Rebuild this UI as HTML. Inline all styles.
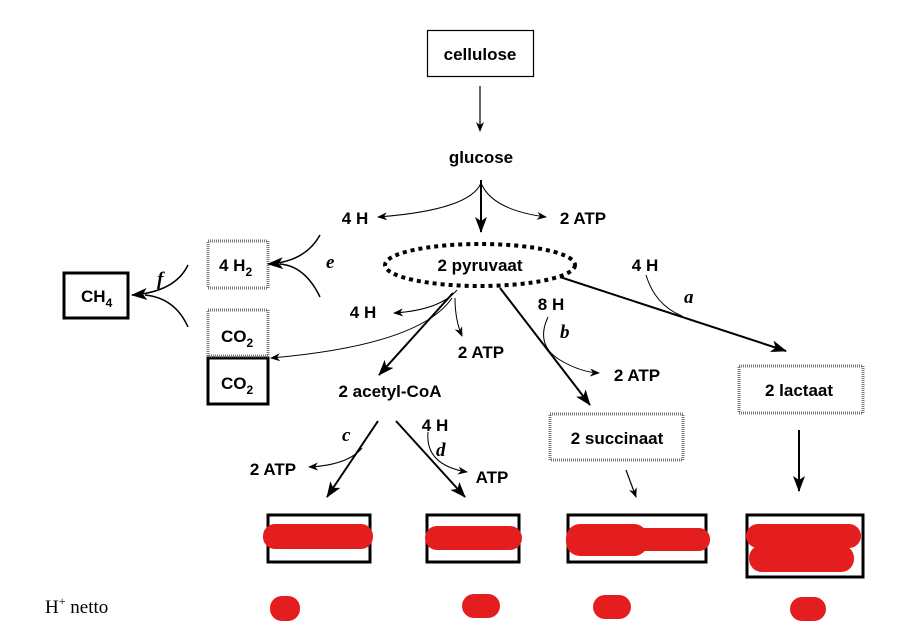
<!DOCTYPE html>
<html><head><meta charset="utf-8"><style>
html,body{margin:0;padding:0;background:#fff;}
svg{display:block;}
.t{font-family:"Liberation Sans",Arial,sans-serif;font-weight:bold;font-size:17px;fill:#000;}
.i{font-family:"Liberation Serif",serif;font-style:italic;font-weight:bold;font-size:19px;fill:#000;}
</style></head><body>
<svg width="901" height="640" viewBox="0 0 901 640" xmlns="http://www.w3.org/2000/svg">
<defs>
<marker id="ah" markerWidth="10" markerHeight="8" refX="9" refY="4" orient="auto" markerUnits="userSpaceOnUse">
<path d="M0,0 L10,4 L0,8 L3,4 z" fill="#000"/></marker>
<marker id="ahb" markerWidth="16" markerHeight="12" refX="15" refY="6" orient="auto" markerUnits="userSpaceOnUse">
<path d="M0,0 L16,6 L0,12 L4,6 z" fill="#000"/></marker>
</defs>
<rect width="901" height="640" fill="#fff"/>
<g fill="none" stroke="#000">
<!-- boxes -->
<rect x="427.5" y="30.5" width="106" height="46" stroke-width="1.2"/>
<rect x="64" y="273" width="64" height="45" stroke-width="3"/>
<rect x="208" y="358" width="60" height="46" stroke-width="3"/>
<g stroke="#777" stroke-width="3" stroke-dasharray="1,1">
<rect x="208" y="241" width="60" height="47"/>
<rect x="208" y="310" width="60" height="46"/>
<rect x="739" y="366" width="124" height="47"/>
<rect x="550" y="414" width="133" height="46"/>
</g>
<ellipse cx="480" cy="265" rx="95" ry="21" stroke-width="4" stroke-dasharray="4,4"/>
<rect x="268" y="515" width="102" height="47" stroke-width="3"/>
<rect x="427" y="515" width="92" height="47" stroke-width="3"/>
<rect x="568" y="515" width="138" height="47" stroke-width="3"/>
<rect x="747" y="515" width="116" height="62" stroke-width="3"/>
<!-- arrows -->
<line x1="480" y1="86" x2="480" y2="131" stroke-width="1.2" marker-end="url(#ah)"/>
<line x1="481" y1="180" x2="481" y2="232" stroke-width="2" marker-end="url(#ahb)"/>
<path d="M481,183 Q470,210 378,217" stroke-width="1" marker-end="url(#ah)"/>
<path d="M481,183 Q492,210 546,217" stroke-width="1" marker-end="url(#ah)"/>
<path d="M320,235 Q305,262 268,264" stroke-width="1.5" marker-end="url(#ahb)"/>
<path d="M320,297 Q305,266 280,264" stroke-width="1.5"/>
<path d="M188,265 Q175,292 132,295" stroke-width="1.5" marker-end="url(#ahb)"/>
<path d="M188,327 Q175,298 145,295" stroke-width="1.5"/>
<path d="M457,290 Q440,310 394,313" stroke-width="1" marker-end="url(#ah)"/>
<path d="M455,298 Q455,320 462,336" stroke-width="1" marker-end="url(#ah)"/>
<path d="M452,298 Q420,345 271,358" stroke-width="1" marker-end="url(#ah)"/>
<line x1="453" y1="293" x2="379" y2="375" stroke-width="2" marker-end="url(#ahb)"/>
<line x1="500" y1="288" x2="590" y2="405" stroke-width="2" marker-end="url(#ahb)"/>
<path d="M548,317 Q535,345 560,360 Q580,372 599,373" stroke-width="1" marker-end="url(#ah)"/>
<line x1="560" y1="277" x2="786" y2="351" stroke-width="2" marker-end="url(#ahb)"/>
<path d="M646,275 Q655,305 682,316" stroke-width="1"/>
<line x1="799" y1="430" x2="799" y2="491" stroke-width="2" marker-end="url(#ahb)"/>
<line x1="626" y1="470" x2="636" y2="497" stroke-width="1.2" marker-end="url(#ah)"/>
<line x1="378" y1="421" x2="327" y2="497" stroke-width="2" marker-end="url(#ahb)"/>
<path d="M362,448 Q348,465 309,467" stroke-width="1" marker-end="url(#ah)"/>
<line x1="396" y1="421" x2="465" y2="497" stroke-width="2" marker-end="url(#ahb)"/>
<path d="M428,432 Q425,465 467,472" stroke-width="1" marker-end="url(#ah)"/>
</g>
<!-- labels -->
<text class="t" x="480" y="60" text-anchor="middle">cellulose</text>
<text class="t" x="481" y="163" text-anchor="middle">glucose</text>
<text class="t" x="355" y="224" text-anchor="middle">4 H</text>
<text class="t" x="583" y="224" text-anchor="middle">2 ATP</text>
<text class="t" x="480" y="271" text-anchor="middle">2 pyruvaat</text>
<text class="t" x="219" y="271">4 H<tspan font-size="12" dy="5">2</tspan></text>
<text class="t" x="81" y="302">CH<tspan font-size="12" dy="5">4</tspan></text>
<text class="t" x="221" y="342">CO<tspan font-size="12" dy="5">2</tspan></text>
<text class="t" x="221" y="389">CO<tspan font-size="12" dy="5">2</tspan></text>
<text class="i" x="326" y="268">e</text>
<text class="i" x="157" y="285">f</text>
<text class="t" x="363" y="318" text-anchor="middle">4 H</text>
<text class="t" x="481" y="358" text-anchor="middle">2 ATP</text>
<text class="t" x="390" y="397" text-anchor="middle">2 acetyl-CoA</text>
<text class="t" x="551" y="310" text-anchor="middle">8 H</text>
<text class="i" x="560" y="338">b</text>
<text class="t" x="637" y="381" text-anchor="middle">2 ATP</text>
<text class="t" x="645" y="271" text-anchor="middle">4 H</text>
<text class="i" x="684" y="303">a</text>
<text class="t" x="799" y="396" text-anchor="middle">2 lactaat</text>
<text class="t" x="617" y="444" text-anchor="middle">2 succinaat</text>
<text class="i" x="342" y="441">c</text>
<text class="t" x="273" y="475" text-anchor="middle">2 ATP</text>
<text class="t" x="435" y="431" text-anchor="middle">4 H</text>
<text class="i" x="436" y="456">d</text>
<text class="t" x="492" y="483" text-anchor="middle">ATP</text>
<text x="45" y="613" font-family="Liberation Serif,serif" font-size="19" fill="#000">H<tspan font-size="12" dy="-8">+</tspan><tspan dy="8"> netto</tspan></text>
<!-- red blobs -->
<g fill="#e41e1e">
<rect x="263" y="524" width="110" height="25" rx="12"/>
<rect x="425" y="526" width="97" height="24" rx="12"/>
<rect x="566" y="524" width="82" height="32" rx="14"/>
<rect x="600" y="528" width="110" height="23" rx="11"/>
<rect x="746" y="524" width="115" height="24" rx="12"/>
<rect x="749" y="545" width="105" height="27" rx="13"/>
<rect x="270" y="596" width="30" height="25" rx="12"/>
<rect x="462" y="594" width="38" height="24" rx="12"/>
<rect x="593" y="595" width="38" height="24" rx="12"/>
<rect x="790" y="597" width="36" height="24" rx="12"/>
</g>
</svg>
</body></html>
